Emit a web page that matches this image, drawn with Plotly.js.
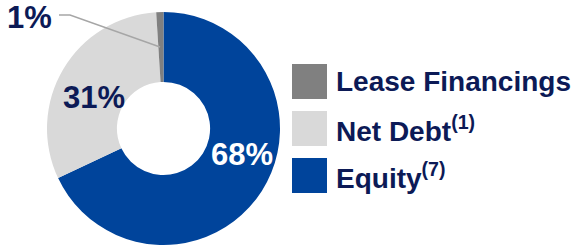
<!DOCTYPE html>
<html><head><meta charset="utf-8">
<script src="https://cdn.plot.ly/plotly-3.0.1.min.js"></script>
<style>html,body{margin:0;padding:0;background:#fff}#chart{width:578px;height:246px}</style>
</head><body><div id="chart"></div>
<script>
const labels = ["Equity", "Net Debt", "Lease Financings"];
const values = [68, 31, 1];
const colors = ["#00449b", "#d9d9d9", "#808080"];
const legendLabels = ["Lease Financings", "Net Debt<sup>(1)</sup>", "Equity<sup>(7)</sup>"];
const legendColors = ["#808080", "#d9d9d9", "#00449b"];

const W = 578, H = 246;
const px = x => x / W, py = y => 1 - y / H;
const navy = "#0c1a56";
const FONT = "Liberation Sans, Arial, sans-serif";

const data = [{
  type: "pie", labels: labels, values: values, sort: false, direction: "clockwise", rotation: 0,
  hole: 0.4, marker: {colors: colors, line: {width: 0}}, textinfo: "none", hoverinfo: "label+percent",
  domain: {x: [px(47), px(280)], y: [py(245), py(12)]}, showlegend: false
}];

const annotations = [
  {x: px(242), y: py(154), text: values[0] + "%", color: "#ffffff"},
  {x: px(94), y: py(97), text: values[1] + "%", color: navy},
  {x: px(29), y: py(18), text: values[2] + "%", color: navy}
].map(a => ({x: a.x, y: a.y, xref: "paper", yref: "paper", text: a.text, showarrow: false,
  xanchor: "center", yanchor: "middle", font: {family: FONT, size: 31, color: a.color, weight: "bold"}}));

const shapes = [{type: "path", xref: "paper", yref: "paper",
  path: `M ${px(59)} ${py(15)} L ${px(70)} ${py(15)} L ${px(160)} ${py(47)}`,
  line: {color: "#a6a6a6", width: 1.5}}];

const legTop = [64, 111, 158];
legTop.forEach((t, i) => {
  shapes.push({type: "rect", xref: "paper", yref: "paper", x0: px(292), x1: px(327), y0: py(t + 35), y1: py(t),
    fillcolor: legendColors[i], line: {width: 0}});
  annotations.push({x: px(334), y: py(t + 18), xref: "paper", yref: "paper", text: legendLabels[i], showarrow: false,
    xanchor: "left", yanchor: "middle", font: {family: FONT, size: 28, color: navy, weight: "bold"}});
});

Plotly.newPlot("chart", data, {
  width: W, height: H, margin: {l: 0, r: 0, t: 0, b: 0}, paper_bgcolor: "#fff",
  annotations: annotations, shapes: shapes
}, {displayModeBar: false, staticPlot: true});
</script></body></html>
